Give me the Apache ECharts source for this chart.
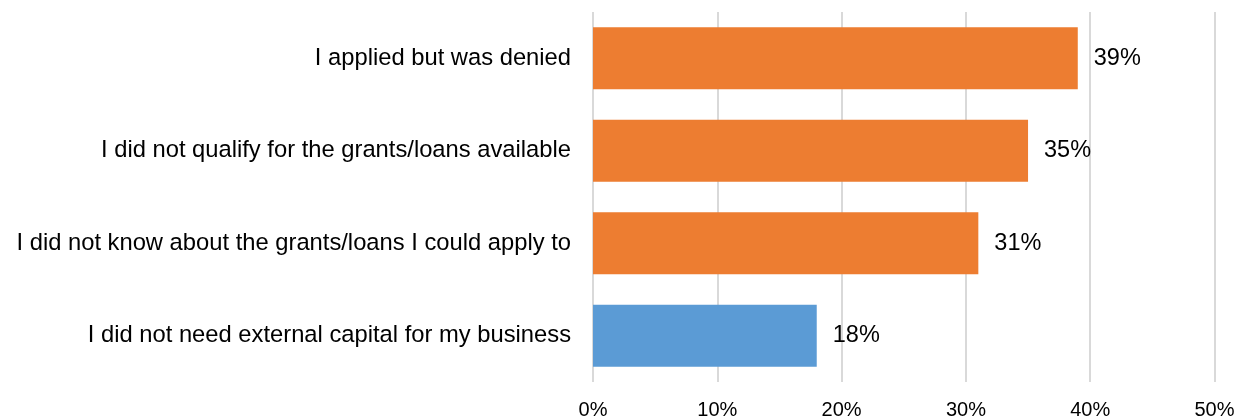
<!DOCTYPE html>
<html>
<head>
<meta charset="utf-8">
<script src="https://cdn.jsdelivr.net/npm/echarts@6/dist/echarts.min.js"></script>
<style>html,body{margin:0;padding:0;background:#fff}#c{width:1245px;height:420px}</style>
</head>
<body>
<div id="c"></div>
<script>
const categories = [
  "I applied but was denied",
  "I did not qualify for the grants/loans available",
  "I did not know about the grants/loans I could apply to",
  "I did not need external capital for my business"
];
const values = [39, 35, 31, 18];
const barColors = ["#ED7D31", "#ED7D31", "#ED7D31", "#5B9BD5"];
const xTicks = [0, 10, 20, 30, 40, 50];

const FONT = 'Liberation Sans, Arial, sans-serif';
const chart = echarts.init(document.getElementById('c'), null, {renderer: 'canvas'});
chart.setOption({
  animation: false,
  grid: {left: 593, right: 30.5, top: 12, bottom: 34, containLabel: false},
  xAxis: {
    type: 'value', min: xTicks[0], max: xTicks[xTicks.length - 1], interval: 10,
    axisLine: {show: false}, axisTick: {show: false},
    splitLine: {show: true, lineStyle: {color: '#D9D9D9', width: 2}},
    axisLabel: {formatter: v => v + '%', color: '#000', fontSize: 20, fontFamily: FONT, margin: 18}
  },
  yAxis: {
    type: 'category', data: categories, inverse: true,
    axisLine: {show: false}, axisTick: {show: false},
    axisLabel: {color: '#000', fontSize: 23.75, fontFamily: FONT, margin: 22, padding: [3, 0, 0, 0]}
  },
  series: [{
    type: 'bar',
    data: values.map((v, i) => ({value: v, itemStyle: {color: barColors[i]}})),
    barCategoryGap: '33%',
    label: {show: true, position: 'right', distance: 16, formatter: p => p.value + '%', color: '#000', fontSize: 23.5, fontFamily: FONT, padding: [3, 0, 0, 0]}
  }]
});
</script>
</body>
</html>
